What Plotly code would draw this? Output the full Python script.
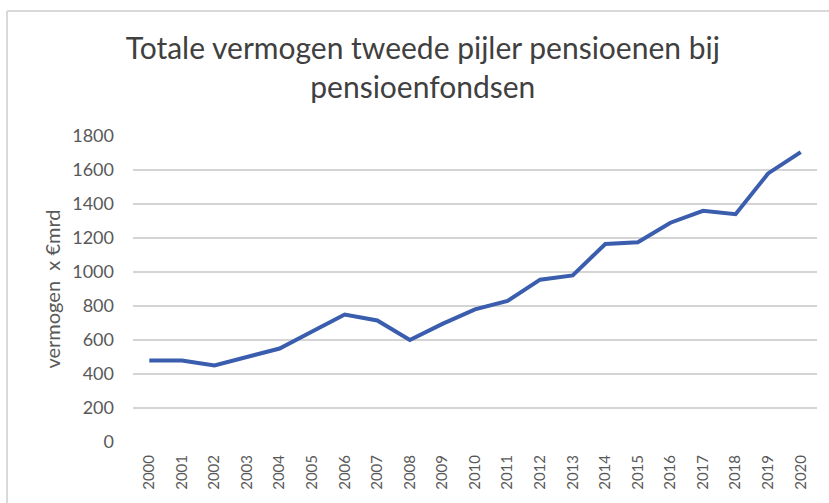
import plotly.graph_objects as go

years = [str(y) for y in range(2000, 2021)]
vermogen = [480, 480, 450, 500, 550, 650, 750, 715, 600, 695, 780, 830,
            955, 980, 1165, 1175, 1290, 1360, 1340, 1580, 1705]
y_ticks = [0, 200, 400, 600, 800, 1000, 1200, 1400, 1600, 1800]

W, H = 829, 503
L, R, T, B = 133, 12, 136, 61
pw, ph = W - L - R, H - T - B

def px(x):
    return (x - L) / pw

def py(y):
    return (H - B - y) / ph

fig = go.Figure()
fig.add_trace(go.Scatter(
    x=years, y=vermogen, mode="lines",
    line=dict(color="#3a5dae", width=4),
    showlegend=False, hoverinfo="x+y",
))

font = "Lato, 'Open Sans', sans-serif"
fig.update_layout(
    width=W, height=H,
    margin=dict(l=L, r=R, t=T, b=B),
    paper_bgcolor="white", plot_bgcolor="white",
    title=dict(
        text="Totale vermogen tweede pijler pensioenen bij<br>pensioenfondsen",
        x=0.51, xanchor="center", xref="container",
        y=1 - 59 / H, yanchor="top", yref="container",
        font=dict(family=font, size=30, color="#404040"),
    ),
    xaxis=dict(
        type="category", range=[-0.5, 20.5],
        tickangle=-90, showgrid=False, zeroline=False,
        showline=False, ticks="",
        tickfont=dict(family=font, size=15, color="#595959"),
        ticklabelstandoff=9,
    ),
    yaxis=dict(
        range=[0, 1800], tickvals=y_ticks,
        showgrid=True, gridcolor="#d4d4d4", gridwidth=1.5,
        zeroline=False, showline=False, ticks="",
        tickfont=dict(family=font, size=18, color="#595959"),
        ticklabelstandoff=18,
        title=dict(text="vermogen  x €mrd", standoff=6,
                   font=dict(family=font, size=20, color="#595959")),
    ),
    shapes=[
        dict(type="line", xref="paper", yref="paper",
             x0=px(7), x1=px(845), y0=py(11), y1=py(11),
             line=dict(color="#d9d9d9", width=2)),
        dict(type="line", xref="paper", yref="paper",
             x0=px(7), x1=px(7), y0=py(11), y1=py(520),
             line=dict(color="#d9d9d9", width=2)),
    ],
)

fig.write_html("out.html", config={"displayModeBar": False},
               post_script="document.body.style.margin='0';document.body.style.overflow='hidden';")
